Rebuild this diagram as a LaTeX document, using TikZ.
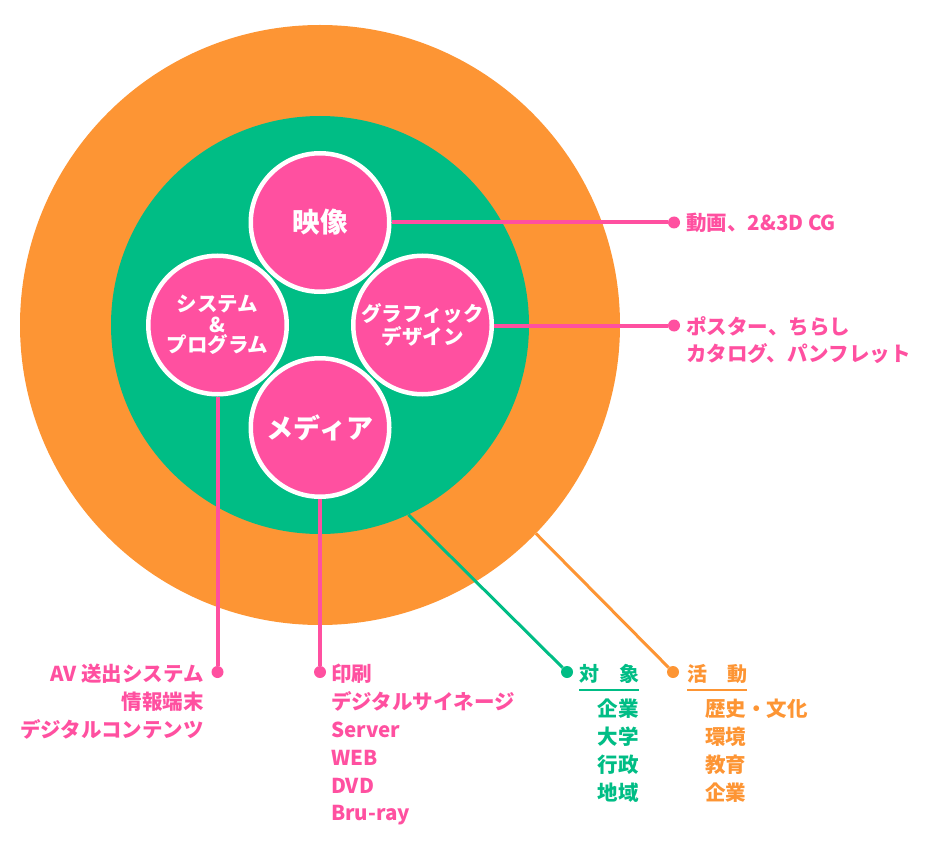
\documentclass[tikz,border=0pt]{standalone}
\usepackage{fontspec}
\setmainfont{Noto Sans CJK JP}
\usetikzlibrary{positioning}
\definecolor{cOrange}{RGB}{253,149,52}
\definecolor{cGreen}{RGB}{0,189,133}
\definecolor{cPink}{RGB}{255,80,160}
\pgfdeclarelayer{bottom}
\pgfdeclarelayer{background}
\pgfsetlayers{bottom,background,main}
\begin{document}
\begin{tikzpicture}[x=1pt,y=-1pt,
  bubble/.style={circle, fill=cPink, draw=white, line width=4.5pt, minimum size=138.5pt, inner sep=0pt, text=white, align=center},
  dot/.style={circle, inner sep=0pt, minimum size=12pt},
  pinkline/.style={draw=cPink, line width=4pt},
  lbl/.style={inner sep=0pt, font=\bfseries\fontsize{20.5}{28}\selectfont},
  head/.style={inner sep=0pt, font=\bfseries\fontsize{20}{28}\selectfont},
]
\useasboundingbox (0,0) rectangle (939,850);

\begin{pgfonlayer}{bottom}
\node[circle, fill=cOrange, minimum size=600pt, inner sep=0pt] (outer) at (320,325) {};
\node[circle, fill=cGreen, minimum size=418pt, inner sep=0pt] (inner) at (320,325) {};
\end{pgfonlayer}

% bubbles
\node[bubble, font=\bfseries\fontsize{27.5}{30}\selectfont] (eizo) at (320,222.5) {映像};
\node[bubble, font=\bfseries\fontsize{27}{30}\selectfont] (med) at (320,427.5) {メディア};
\node[bubble, font=\bfseries\fontsize{20.5}{20.5}\selectfont] (sys) at (217.5,325) {\raisebox{0pt}{システム}\\\&\\プログラム};
\node[bubble, font=\bfseries\fontsize{20.5}{23}\selectfont] (gra) at (422.5,325) {グラフィック\\デザイン};

% dots
\node[dot, fill=cPink] (d1) at (674,222.5) {};
\node[dot, fill=cPink] (d2) at (674,325.5) {};
\node[dot, fill=cPink] (dS) at (217.5,672) {};
\node[dot, fill=cPink] (dM) at (320,672) {};
\node[dot, fill=cGreen] (dG) at (567,672) {};
\node[dot, fill=cOrange] (dO) at (673,672) {};

\coordinate (gStart) at (inner.-65.5);
\coordinate (oStart) at (outer.-44);

\begin{pgfonlayer}{background}
\draw[pinkline] (eizo) -- (d1);
\draw[pinkline] (gra.center |- d2) -- (d2);
\draw[pinkline] (sys) -- (dS);
\draw[pinkline] (med) -- (dM);
\draw[draw=cGreen, line width=3pt] (gStart) -- (dG);
\draw[draw=cOrange, line width=3pt] (oStart) -- (dO);
\end{pgfonlayer}

% right labels
\node[lbl, text=cPink, anchor=base west] (t1) at (686,231) {動画、2\&3D CG};
\node[lbl, text=cPink, anchor=base west] (t2a) at (686,334) {ポスター、ちらし};
\node[lbl, text=cPink, anchor=base west] (t2b) at (686,361) {カタログ、パンフレット};

% left list
\node[lbl, text=cPink, anchor=base east] (s1) at (204,681) {AV 送出システム};
\node[lbl, text=cPink, anchor=base east] (s2) at (204,709) {情報端末};
\node[lbl, text=cPink, anchor=base east] (s3) at (204,737) {デジタルコンテンツ};

% media list
\node[lbl, text=cPink, anchor=base west] (m1) at (331,681) {印刷};
\node[lbl, text=cPink, anchor=base west] (m2) at (331,709) {デジタルサイネージ};
\node[lbl, text=cPink, anchor=base west] (m3) at (331,737) {Server};
\node[lbl, text=cPink, anchor=base west] (m4) at (331,765) {WEB};
\node[lbl, text=cPink, anchor=base west] (m5) at (331,793) {DVD};
\node[lbl, text=cPink, anchor=base west] (m6) at (331,820.5) {Bru-ray};

% green list
\node[head, text=cGreen, anchor=base west] (hG) at (579,681) {対　象};
\draw[cGreen, line width=2pt] ([yshift=-8.5pt]hG.base west) -- ([yshift=-8.5pt]hG.base east);
\node[lbl, text=cGreen, anchor=base east] (g1) at (639,716) {企業};
\node[lbl, text=cGreen, anchor=base east] (g2) at (639,744) {大学};
\node[lbl, text=cGreen, anchor=base east] (g3) at (639,772) {行政};
\node[lbl, text=cGreen, anchor=base east] (g4) at (639,800) {地域};

% orange list
\node[head, text=cOrange, anchor=base west] (hO) at (687,681) {活　動};
\draw[cOrange, line width=2pt] ([yshift=-8.5pt]hO.base west) -- ([yshift=-8.5pt]hO.base east);
\node[lbl, text=cOrange, anchor=base west] (o1) at (705,716) {歴史・文化};
\node[lbl, text=cOrange, anchor=base west] (o2) at (705,744) {環境};
\node[lbl, text=cOrange, anchor=base west] (o3) at (705,772) {教育};
\node[lbl, text=cOrange, anchor=base west] (o4) at (705,800) {企業};
\end{tikzpicture}
\end{document}
